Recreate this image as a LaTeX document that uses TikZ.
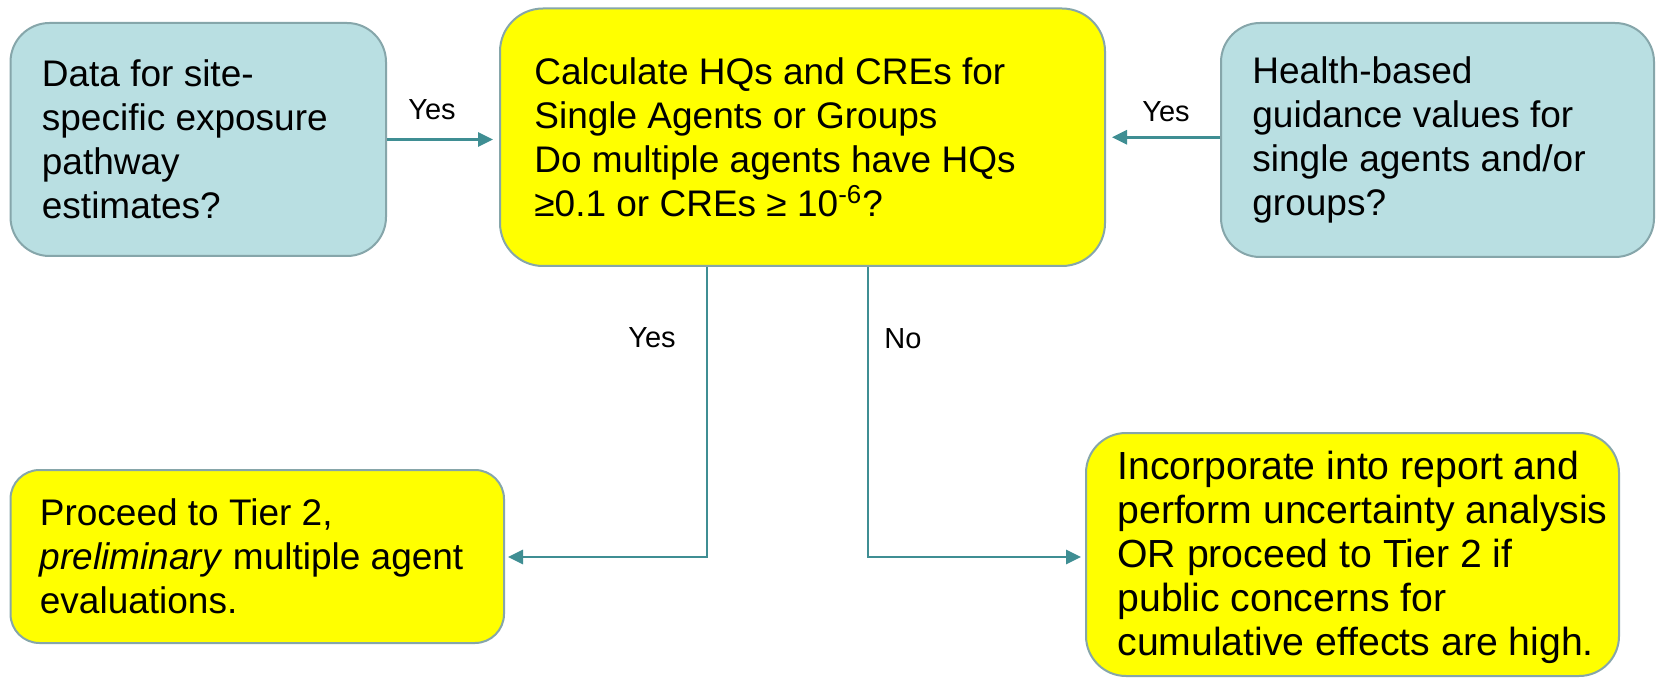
\documentclass[tikz,border=0pt]{standalone}
\usepackage{fontspec}
\setmainfont{Liberation Sans}
\usetikzlibrary{arrows.meta}

\definecolor{boxblue}{HTML}{B9DFE2}
\definecolor{boxyellow}{HTML}{FFFF00}
\definecolor{boxedge}{HTML}{86A6AA}
\definecolor{linkteal}{HTML}{3F8E93}

\tikzset{
  panel/.style={draw=boxedge, line width=1pt, rectangle, inner sep=0pt},
  bluepanel/.style={panel, fill=boxblue},
  yellowpanel/.style={panel, fill=boxyellow},
  boxtext/.style={anchor=west, inner sep=0pt, align=left,
    font=\fontsize{18.5}{22}\selectfont},
  answer/.style={anchor=base, inner sep=0pt, font=\fontsize{14.5}{17}\selectfont},
  link/.style={draw=linkteal, line width=1.35pt,
    -{Triangle[length=7.5pt,width=7pt]}},
}

\begin{document}
\begin{tikzpicture}[x=0.5pt,y=-0.5pt]
  \fill[white] (0,0) rectangle (1657,678);
  \useasboundingbox (0,0) rectangle (1657,678);

  % decision and action boxes
  \node[bluepanel, minimum width=187.75pt, minimum height=116.5pt,
        rounded corners=19.5pt] (b1) at (198.25,139.5) {};
  \node[yellowpanel, minimum width=302.5pt, minimum height=128.75pt,
        rounded corners=21.5pt] (b2) at (802.5,137.25) {};
  \node[bluepanel, minimum width=216.5pt, minimum height=117pt,
        rounded corners=19.5pt] (b3) at (1437.5,140) {};
  \node[yellowpanel, minimum width=246.75pt, minimum height=86.5pt,
        rounded corners=14.5pt] (b4) at (257.25,556.5) {};
  \node[yellowpanel, minimum width=266.5pt, minimum height=121.5pt,
        rounded corners=20pt] (b5) at (1352.5,554.5) {};

  % box texts
  \node[boxtext, xshift=16pt] (t1) at (b1.west)
    {Data for site-\\specific exposure\\pathway\\estimates?};
  \node[boxtext, xshift=17.5pt] (t2) at (b2.west)
    {Calculate HQs and CREs for\\Single Agents or Groups\\Do multiple agents have HQs\\≥0.1 or CREs ≥ 10\textsuperscript{-6}?};
  \node[boxtext, xshift=16pt] (t3) at (b3.west)
    {Health-based\\guidance values for\\single agents and/or\\groups?};
  \node[boxtext, xshift=15pt] (t4) at (b4.west)
    {Proceed to Tier 2,\\\textit{preliminary} multiple agent\\evaluations.};
  \node[boxtext, xshift=16pt, yshift=-1.5pt, font=\fontsize{19.6}{22}\selectfont] (t5) at (b5.west)
    {Incorporate into report and\\perform uncertainty analysis\\OR proceed to Tier 2 if\\public concerns for\\cumulative effects are high.};

  % bends of the lower connectors
  \coordinate (k1) at (707,557);
  \coordinate (k2) at (868,557);

  % connectors
  \draw[link, shorten >=3pt] (b1.east) -- (b2.west |- b1.east);
  \draw[link, shorten >=3pt] (b3.west |- b2.east) -- (b2.east);
  \draw[link, shorten >=1.5pt] (k1 |- b2.south) -- (k1) -- (b4.east |- k1);
  \draw[link, shorten >=2pt] (k2 |- b2.south) -- (k2) -- (b5.west |- k2);

  % connector labels
  \node[answer] (y1) at (432,120) {Yes};
  \node[answer] (y2) at (1166,122) {Yes};
  \node[answer] (y3) at (652,347) {Yes};
  \node[answer] (n1) at (903,349) {No};
\end{tikzpicture}
\end{document}
